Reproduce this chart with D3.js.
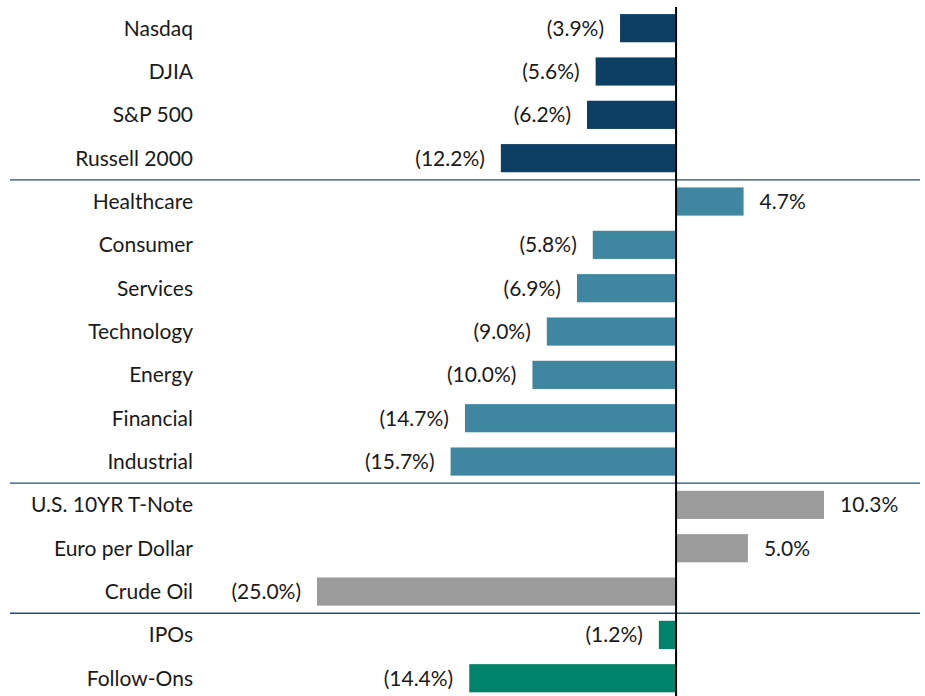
<!DOCTYPE html>
<html>
<head>
<meta charset="utf-8">
<script src="https://cdn.jsdelivr.net/npm/d3@7"></script>
<style>
  body { margin: 0; background: #fff; }
  text { font-family: Lato, "Open Sans", sans-serif; fill: #1a1a1a; }
</style>
</head>
<body>
<div id="chart"></div>
<script>
// Data
const categories = ["Nasdaq", "DJIA", "S&P 500", "Russell 2000",
  "Healthcare", "Consumer", "Services", "Technology", "Energy", "Financial ", "Industrial",
  "U.S. 10YR T-Note", "Euro per Dollar", "Crude Oil",
  "IPOs", "Follow-Ons"];
const values = [-3.9, -5.6, -6.2, -12.2,
  4.7, -5.8, -6.9, -9.0, -10.0, -14.7, -15.7,
  10.3, 5.0, -25.0,
  -1.2, -14.4];
const groups = ["index", "index", "index", "index",
  "sector", "sector", "sector", "sector", "sector", "sector", "sector",
  "macro", "macro", "macro",
  "deal", "deal"];
const groupColors = {index: "#0b4064", sector: "#3f87a0", macro: "#9b9b9c", deal: "#00836b"};

const width = 925, height = 696;

const svg = d3.select("#chart")
  .append("svg")
  .attr("width", width)
  .attr("height", height);

const data = categories.map((c, i) => ({name: c, value: values[i], group: groups[i]}));

const x = d3.scaleLinear()
  .domain([-25, 10.3])
  .range([317, 824]);

const y = d3.scaleBand()
  .domain(categories)
  .range([6.5, 699.9])
  .paddingInner(0.35)
  .paddingOuter(0.175);

const fmt = v => v < 0 ? `(${Math.abs(v).toFixed(1)}%)` : `${v.toFixed(1)}%`;

// Bars
svg.selectAll(".bar")
  .data(data)
  .enter()
  .append("rect")
  .attr("class", "bar")
  .attr("x", d => x(Math.min(0, d.value)))
  .attr("y", d => y(d.name))
  .attr("width", d => Math.abs(x(d.value) - x(0)))
  .attr("height", y.bandwidth())
  .attr("fill", d => groupColors[d.group]);

// Category labels
svg.selectAll(".cat")
  .data(data)
  .enter()
  .append("text")
  .attr("class", "cat")
  .attr("x", 193)
  .attr("y", d => y(d.name) + y.bandwidth() / 2)
  .attr("dy", "0.35em")
  .attr("text-anchor", "end")
  .style("font-size", "21px")
  .text(d => d.name);

// Value labels
svg.selectAll(".val")
  .data(data)
  .enter()
  .append("text")
  .attr("class", "val")
  .attr("x", d => d.value < 0 ? x(d.value) - 16 : x(d.value) + 16)
  .attr("y", d => y(d.name) + y.bandwidth() / 2)
  .attr("dy", "0.35em")
  .attr("text-anchor", d => d.value < 0 ? "end" : "start")
  .style("font-size", "21px")
  .text(d => fmt(d.value));

// Group separators
const step = y.step();
data.forEach((d, i) => {
  if (i > 0 && d.group !== data[i - 1].group) {
    const yy = y(d.name) - (step - y.bandwidth()) / 2;
    svg.append("line")
      .attr("x1", 10).attr("x2", 920)
      .attr("y1", yy).attr("y2", yy)
      .attr("stroke", "#1f4e79")
      .attr("stroke-width", 1.3);
  }
});

// Zero line
svg.append("line")
  .attr("x1", x(0)).attr("x2", x(0))
  .attr("y1", 7).attr("y2", height)
  .attr("stroke", "#000")
  .attr("stroke-width", 2);
</script>
</body>
</html>
